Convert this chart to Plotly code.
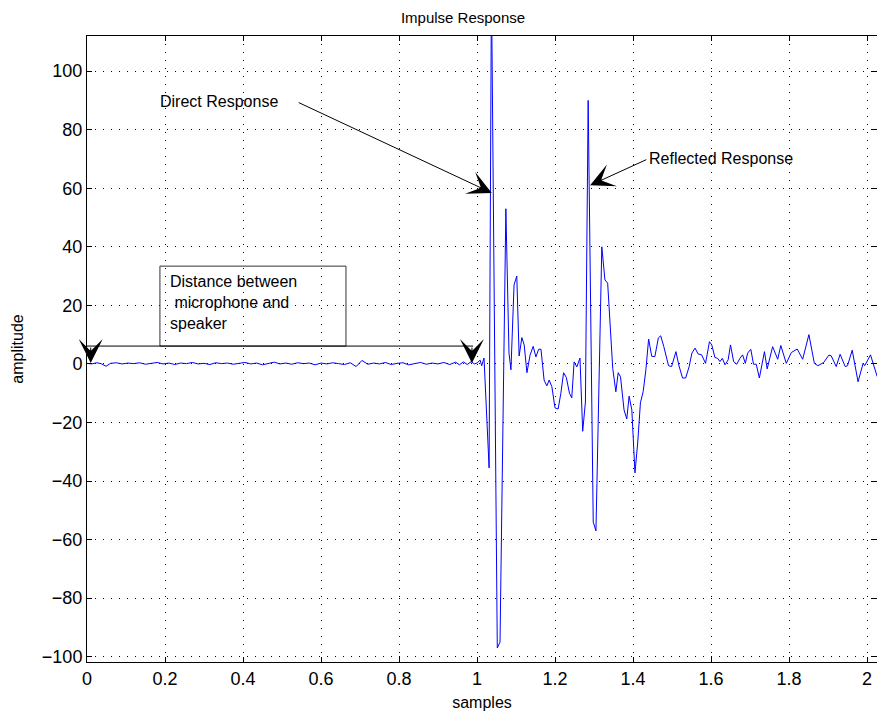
import plotly.graph_objects as go

# ---- data ----
flat_x = [0.000, 0.012, 0.025, 0.036, 0.049, 0.060, 0.075, 0.090, 0.105, 0.120, 0.135, 0.150,
          0.165, 0.180, 0.195, 0.210, 0.225, 0.240, 0.255, 0.270, 0.285, 0.300, 0.315, 0.330,
          0.345, 0.360, 0.375, 0.390, 0.405, 0.420, 0.435, 0.450, 0.465, 0.480, 0.495, 0.510,
          0.525, 0.540, 0.555, 0.570, 0.585, 0.600, 0.615, 0.630, 0.645, 0.660, 0.675, 0.690,
          0.705, 0.720, 0.735, 0.750, 0.765, 0.780, 0.795, 0.810, 0.825, 0.840, 0.855, 0.870,
          0.885, 0.900, 0.915, 0.930, 0.945, 0.955, 0.965, 0.975, 0.985, 0.993]
flat_y = [0.2, 0.0, 0.4, 0.1, -0.8, 0.2, 0.4, 0.0, 0.3, 0.1, 0.4, -0.1,
          0.2, 0.5, 0.0, 0.3, -0.2, 0.3, 0.1, 0.5, 0.0, 0.2, -0.2, 0.4,
          0.1, 0.3, -0.1, 0.2, 0.5, 0.0, 0.3, -0.3, 0.2, 0.6, 0.0, 0.3,
          -0.1, 0.4, 0.1, 0.3, -0.3, 0.3, 0.0, 0.4, 0.1, -0.2, 0.4, -0.9,
          1.2, -0.1, 0.3, 0.0, 0.5, -0.2, 0.2, 0.4, -0.3, 0.2, 0.5, -0.1,
          0.3, 0.0, 0.5, -0.2, 0.6, -0.3, 0.7, -0.2, 0.8, 0.0]

resp_x = [1.000, 1.008, 1.012, 1.018, 1.031, 1.037, 1.052, 1.059, 1.074, 1.082, 1.087, 1.095,
          1.102, 1.108, 1.115, 1.121, 1.128, 1.136, 1.144, 1.151, 1.158, 1.164, 1.172, 1.179,
          1.185, 1.192, 1.200, 1.208, 1.215, 1.222, 1.229, 1.237, 1.243, 1.249, 1.256, 1.264,
          1.271, 1.278, 1.285, 1.298, 1.305, 1.320, 1.328, 1.335, 1.348, 1.356, 1.362, 1.368,
          1.377, 1.384, 1.390, 1.397, 1.405, 1.412, 1.419, 1.426, 1.433, 1.440, 1.448, 1.456,
          1.465, 1.471, 1.479, 1.491, 1.499, 1.510, 1.518, 1.527, 1.535, 1.544, 1.551, 1.559,
          1.567, 1.576, 1.586, 1.596, 1.602, 1.610, 1.617, 1.623, 1.629, 1.636, 1.644, 1.650,
          1.658, 1.666, 1.674, 1.681, 1.688, 1.694, 1.702, 1.709, 1.716, 1.724, 1.737, 1.744,
          1.758, 1.771, 1.779, 1.793, 1.806, 1.821, 1.835, 1.851, 1.865, 1.874, 1.889, 1.902,
          1.908, 1.921, 1.931, 1.944, 1.950, 1.962, 1.977, 1.990, 1.994, 2.009, 2.017, 2.026]
resp_y = [0.3, 1.3, -0.6, 2.0, -35.5, 130.0, -97.0, -95.0, 53.0, 3.7, -2.0, 27.0,
          30.0, 2.7, 9.0, 6.5, -3.0, 3.0, 6.0, 2.4, 5.0, 5.0, -5.5, -7.5,
          -5.5, -7.8, -15.0, -15.4, -10.0, -3.0, -4.6, -10.0, -11.6, 0.7, -1.0, 2.0,
          -23.0, -13.0, 90.0, -54.0, -57.0, 40.0, 28.7, 27.6, -1.5, -9.5, -3.0, -4.4,
          -15.7, -18.8, -11.0, -15.7, -37.2, -27.0, -13.3, -9.5, -2.0, 8.5, 2.6, 2.5,
          8.9, 9.6, 5.9, -0.6, -0.9, 4.2, -0.7, -4.8, -4.8, -0.9, 3.7, 5.4,
          3.4, 3.1, 0.2, 7.6, 6.5, 2.2, 1.9, 0.8, 1.9, -0.3, 1.4, 6.5,
          0.8, -0.1, 1.9, 3.1, 0.2, 3.7, 5.0, -0.1, -0.1, -4.8, 4.2, -1.7,
          5.9, 1.6, 6.3, 0.2, 3.9, 5.1, 1.6, 10.0, 0.2, -0.6, 0.5, 3.0,
          2.8, -0.9, 3.3, -0.9, -0.6, 4.7, -6.1, 0.2, -0.6, 3.1, -0.3, -4.3]

x_ticks = [0, 0.2, 0.4, 0.6, 0.8, 1.0, 1.2, 1.4, 1.6, 1.8, 2.0]
x_tick_labels = ["0", "0.2", "0.4", "0.6", "0.8", "1", "1.2", "1.4", "1.6", "1.8", "2"]
y_ticks = [-100, -80, -60, -40, -20, 0, 20, 40, 60, 80, 100]
y_tick_labels = ["\u2212100", "\u221280", "\u221260", "\u221240", "\u221220", "0",
                 "20", "40", "60", "80", "100"]

FONT = "Liberation Sans, Arial, Helvetica, sans-serif"

fig = go.Figure()
fig.add_trace(go.Scatter(x=flat_x + resp_x, y=flat_y + resp_y, mode="lines",
                         line=dict(color="rgb(0,0,255)", width=1), showlegend=False,
                         hoverinfo="skip"))

axis_common = dict(showline=True, linecolor="black", linewidth=1, mirror="ticks",
                   ticks="inside", ticklen=5, tickcolor="black", zeroline=False,
                   showgrid=True, gridcolor="black", gridwidth=1, griddash="1px,7px",
                   tickfont=dict(family=FONT, size=18, color="black"))

fig.update_xaxes(range=[0, 2.0256], tickvals=x_ticks, ticktext=x_tick_labels,
                 title=dict(text="samples", font=dict(family=FONT, size=16, color="black"),
                            standoff=9), **axis_common)
fig.update_yaxes(range=[-101.8, 112], tickvals=y_ticks, ticktext=y_tick_labels,
                 title=dict(text="amplitude", font=dict(family=FONT, size=16, color="black"),
                            standoff=14), **axis_common)

# box around "Distance between microphone and speaker"
fig.add_shape(type="rect", x0=0.187, x1=0.664, y0=6.1, y1=33.4, xref="x", yref="y",
              line=dict(color="#333333", width=1), fillcolor="rgba(0,0,0,0)")
fig.add_shape(type="line", x0=0.0, x1=0.99, y0=6.1, y1=6.1, xref="x", yref="y",
              line=dict(color="black", width=1))

annos = []
annos.append(dict(x=0.208, y=21.0, xref="x", yref="y", xanchor="left", yanchor="middle",
                  align="left", showarrow=False,
                  text="Distance between<br>\u00a0microphone and<br>speaker",
                  font=dict(family=FONT, size=16, color="black")))
# down-pointing heads on the double arrow
for hx in [0.0095, 0.987]:
    annos.append(dict(x=hx, y=0.3, ax=hx, ay=6.1, xref="x", yref="y", axref="x", ayref="y",
                      text="", showarrow=True, arrowhead=3, arrowsize=4.0, arrowwidth=1,
                      arrowcolor="black"))
# Direct response
annos.append(dict(x=0.183, y=89.5, xref="x", yref="y", xanchor="left", yanchor="middle",
                  showarrow=False, text="Direct Response",
                  font=dict(family=FONT, size=16, color="black")))
annos.append(dict(x=1.038, y=58.4, ax=0.539, ay=89.5, xref="x", yref="y", axref="x",
                  ayref="y", text="", showarrow=True, arrowhead=3, arrowsize=4.0,
                  arrowwidth=1, arrowcolor="black"))
# Reflected response
annos.append(dict(x=1.437, y=70.0, xref="x", yref="y", xanchor="left", yanchor="middle",
                  showarrow=False, text="Reflected Response",
                  font=dict(family=FONT, size=16, color="black")))
annos.append(dict(x=1.290, y=61.0, ax=1.438, ay=70.0, xref="x", yref="y", axref="x",
                  ayref="y", text="", showarrow=True, arrowhead=3, arrowsize=4.0,
                  arrowwidth=1, arrowcolor="black"))

fig.update_layout(
    width=877, height=715,
    margin=dict(l=87, r=0, t=36, b=53),
    paper_bgcolor="white", plot_bgcolor="white",
    title=dict(text="Impulse Response", x=463 / 877, xanchor="center", y=1 - 18 / 715,
               yanchor="middle", font=dict(family=FONT, size=15, color="black")),
    annotations=annos,
    font=dict(family=FONT, color="black"),
)

fig.write_html("out.html")
